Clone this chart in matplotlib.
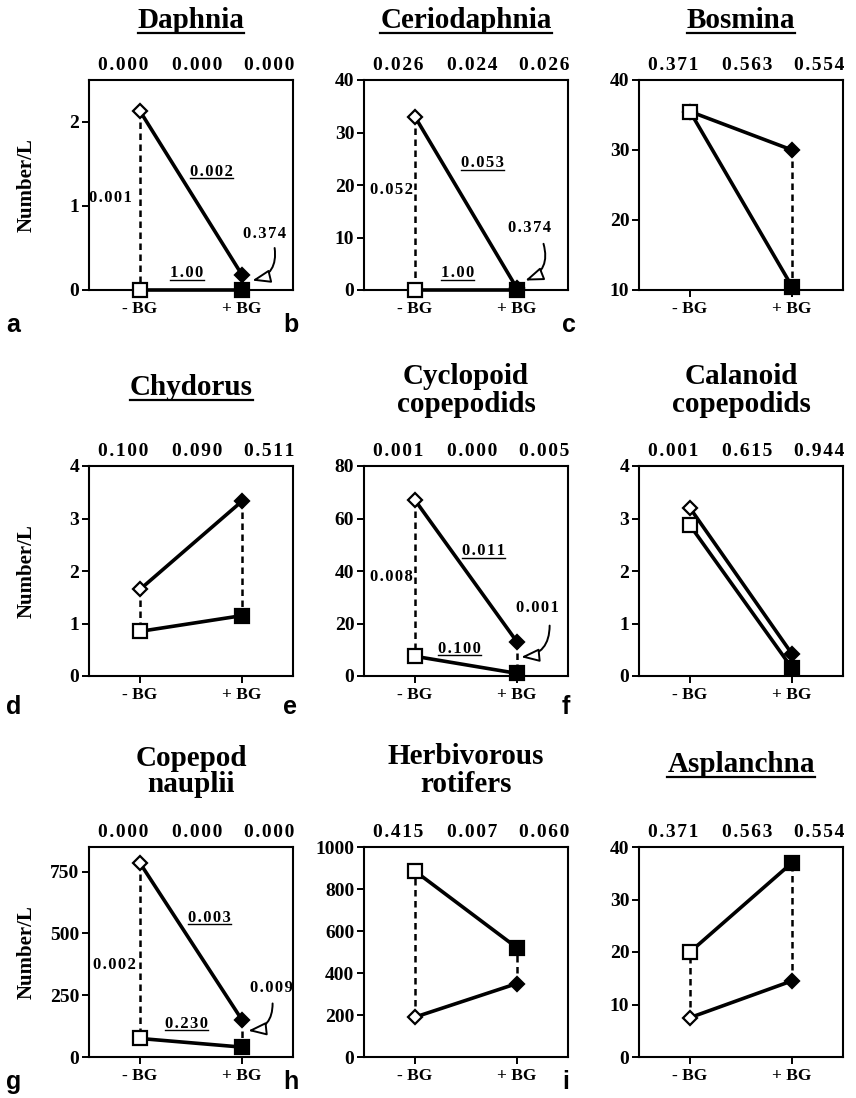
import matplotlib
matplotlib.use("Agg")
import matplotlib.pyplot as plt
from matplotlib.lines import Line2D

# ---------------- data ----------------
titles = [["Daphnia"], ["Ceriodaphnia"], ["Bosmina"],
          ["Chydorus"], ["Cyclopoid", "copepodids"], ["Calanoid", "copepodids"],
          ["Copepod", "nauplii"], ["Herbivorous", "rotifers"], ["Asplanchna"]]
title_underlined = [True, True, True, True, False, False, False, False, True]
panel_letters = ["a", "b", "c", "d", "e", "f", "g", "h", "i"]
x_labels = ["- BG", "+ BG"]

# values at (-BG, +BG)
diamond_vals = [[2.13, 0.18], [33.0, 0.3], [35.5, 30.0],
                [1.65, 3.33], [67.0, 13.0], [3.2, 0.42],
                [785, 150], [190, 350], [7.5, 14.5]]
square_vals = [[0.0, 0.0], [0.0, 0.0], [35.5, 10.5],
               [0.85, 1.15], [7.5, 1.0], [2.87, 0.15],
               [75, 40], [885, 520], [20.0, 37.0]]
# dashed connector between diamond and square at (-BG, +BG)
dashed = [[True, True], [True, True], [False, True],
          [True, True], [True, True], [False, False],
          [True, True], [True, True], [True, True]]

top_pvals = [["0.000", "0.000", "0.000"], ["0.026", "0.024", "0.026"], ["0.371", "0.563", "0.554"],
             ["0.100", "0.090", "0.511"], ["0.001", "0.000", "0.005"], ["0.001", "0.615", "0.944"],
             ["0.000", "0.000", "0.000"], ["0.415", "0.007", "0.060"], ["0.371", "0.563", "0.554"]]

ylims = [(0, 2.5), (0, 40), (10, 40), (0, 4), (0, 80), (0, 4), (0, 850), (0, 1000), (0, 40)]
yticks = [[0, 1, 2], [0, 10, 20, 30, 40], [10, 20, 30, 40], [0, 1, 2, 3, 4],
          [0, 20, 40, 60, 80], [0, 1, 2, 3, 4], [0, 250, 500, 750],
          [0, 200, 400, 600, 800, 1000], [0, 10, 20, 30, 40]]
ylabel_panels = [0, 3, 6]

# inline p-value labels: panel -> (dashed-label, diamond-line label, square-line label, arrow label)
inline_labels = {
    0: ["0.001", "0.002", "1.00", "0.374"],
    1: ["0.052", "0.053", "1.00", "0.374"],
    4: ["0.008", "0.011", "0.100", "0.001"],
    6: ["0.002", "0.003", "0.230", "0.009"],
}

# ---------------- layout ----------------
W, H = 856, 1098
fig = plt.figure(figsize=(W / 100, H / 100), dpi=100)
SERIF = ["Liberation Serif", "DejaVu Serif"]
SANS = ["Liberation Sans", "DejaVu Sans"]

col_left = [89, 364, 639]
ax_w = 204
row_top = [80, 466, 847]
ax_h = 210

inline_pos = {
    0: dict(d=(0.21, 0.44), dl=(0.60, 0.545), sl=(0.48, 0.06), al=(0.86, 0.25), tip=(0.80, 0.045), st=(0.91, 0.20)),
    1: dict(d=(0.24, 0.476), dl=(0.58, 0.585), sl=(0.46, 0.06), al=(0.81, 0.275), tip=(0.79, 0.045), st=(0.88, 0.22)),
    4: dict(d=(0.24, 0.47), dl=(0.585, 0.575), sl=(0.47, 0.11), al=(0.85, 0.305), tip=(0.77, 0.09), st=(0.91, 0.24)),
    6: dict(d=(0.23, 0.44), dl=(0.59, 0.645), sl=(0.48, 0.14), al=(0.895, 0.31), tip=(0.78, 0.125), st=(0.90, 0.255)),
}

title_baselines = {0: [28], 1: [28], 2: [28], 3: [395], 4: [384, 412], 5: [384, 412],
                   6: [766, 792], 7: [764, 792], 8: [772]}
letter_baseline = [332, 714, 1089]
letter_x = [6, 283, 562]
ylabel_right_px = 37


def spaced(s):
    return "\u200a".join(s)


underline_texts = []
for i in range(9):
    r, c = divmod(i, 3)
    left, top = col_left[c], row_top[r]
    ax = fig.add_axes([left / W, 1 - (top + ax_h) / H, ax_w / W, ax_h / H])
    x = [0, 1]
    dv, sv = diamond_vals[i], square_vals[i]
    for k in range(2):
        if dashed[i][k]:
            ax.plot([x[k], x[k]], [dv[k], sv[k]], color="black", lw=1.8,
                    linestyle=(0, (2.6, 1.8)), zorder=1, clip_on=False)
    ax.plot(x, dv, color="black", lw=2.6, zorder=2, solid_capstyle="butt", clip_on=False)
    ax.plot(x, sv, color="black", lw=2.6, zorder=2, solid_capstyle="butt", clip_on=False)
    ax.plot(x[0], dv[0], marker="D", ms=7.3, mfc="white", mec="black", mew=1.6, zorder=3, clip_on=False)
    ax.plot(x[1], dv[1], marker="D", ms=7.3, mfc="black", mec="black", mew=1.6, zorder=3, clip_on=False)
    ax.plot(x[0], sv[0], marker="s", ms=10.5, mfc="white", mec="black", mew=1.6, zorder=4, clip_on=False)
    ax.plot(x[1], sv[1], marker="s", ms=10.5, mfc="black", mec="black", mew=1.6, zorder=4, clip_on=False)

    ax.set_xlim(-0.5, 1.5)
    ax.set_ylim(*ylims[i])
    ax.set_yticks(yticks[i])
    ax.set_yticklabels([str(v) for v in yticks[i]], fontfamily=SERIF, fontweight="bold", fontsize=14)
    ax.set_xticks(x)
    ax.set_xticklabels(x_labels, fontfamily=SERIF, fontweight="bold", fontsize=12.5)
    ax.tick_params(axis="both", direction="out", length=5, width=1.4, pad=2)
    ax.tick_params(axis="x", pad=3)
    for sp in ax.spines.values():
        sp.set_linewidth(1.5)
    if i in ylabel_panels:
        ax.set_ylabel("Number/L", fontfamily=SERIF, fontweight="bold", fontsize=15)
        ax.yaxis.set_label_coords((ylabel_right_px - left) / ax_w, 0.5)

    for k, xf in enumerate([0.17, 0.53, 0.885]):
        ax.text(xf, 1.0 + 10 / ax_h, spaced(top_pvals[i][k]), transform=ax.transAxes,
                ha="center", va="baseline", fontfamily=SERIF, fontweight="bold", fontsize=14)

    cx = (left + ax_w / 2) / W
    for line, base in zip(titles[i], title_baselines[i]):
        t = fig.text(cx, 1 - base / H, line, ha="center", va="baseline",
                     fontfamily=SERIF, fontweight="bold", fontsize=21)
        if title_underlined[i]:
            underline_texts.append((t, 1.6))

    fig.text(letter_x[c] / W, 1 - letter_baseline[r] / H, panel_letters[i], ha="left", va="baseline",
             fontfamily=SANS, fontweight="bold", fontsize=18)

    if i in inline_labels:
        labs = inline_labels[i]
        pos = inline_pos[i]
        fs = 12
        ax.text(*pos["d"], spaced(labs[0]), transform=ax.transAxes, ha="right", va="center",
                fontfamily=SERIF, fontweight="bold", fontsize=fs, zorder=5)
        t = ax.text(*pos["dl"], spaced(labs[1]), transform=ax.transAxes, ha="center", va="baseline",
                    fontfamily=SERIF, fontweight="bold", fontsize=fs, zorder=5)
        underline_texts.append((t, 1.0))
        t = ax.text(*pos["sl"], spaced(labs[2]), transform=ax.transAxes, ha="center", va="baseline",
                    fontfamily=SERIF, fontweight="bold", fontsize=fs, zorder=5)
        underline_texts.append((t, 1.0))
        ax.text(*pos["al"], spaced(labs[3]), transform=ax.transAxes, ha="center", va="baseline",
                fontfamily=SERIF, fontweight="bold", fontsize=fs, zorder=5)
        ax.annotate("", xy=pos["tip"], xytext=pos["st"], xycoords="axes fraction",
                    textcoords="axes fraction",
                    arrowprops=dict(arrowstyle="-|>,head_length=1.1,head_width=0.4",
                                    fc="white", ec="black", lw=1.4,
                                    connectionstyle="arc3,rad=-0.45",
                                    shrinkA=0, shrinkB=0), zorder=5)

fig.canvas.draw()
renderer = fig.canvas.get_renderer()
for t, lw in underline_texts:
    bb = t.get_window_extent(renderer)
    xd, yd = t.get_transform().transform(t.get_position())
    y = yd - (4.5 if lw > 1 else 2.5)
    fig.add_artist(Line2D([bb.x0 / W, bb.x1 / W], [y / H, y / H], color="black", lw=lw,
                          transform=fig.transFigure))

fig.savefig("out.png", dpi=100)
